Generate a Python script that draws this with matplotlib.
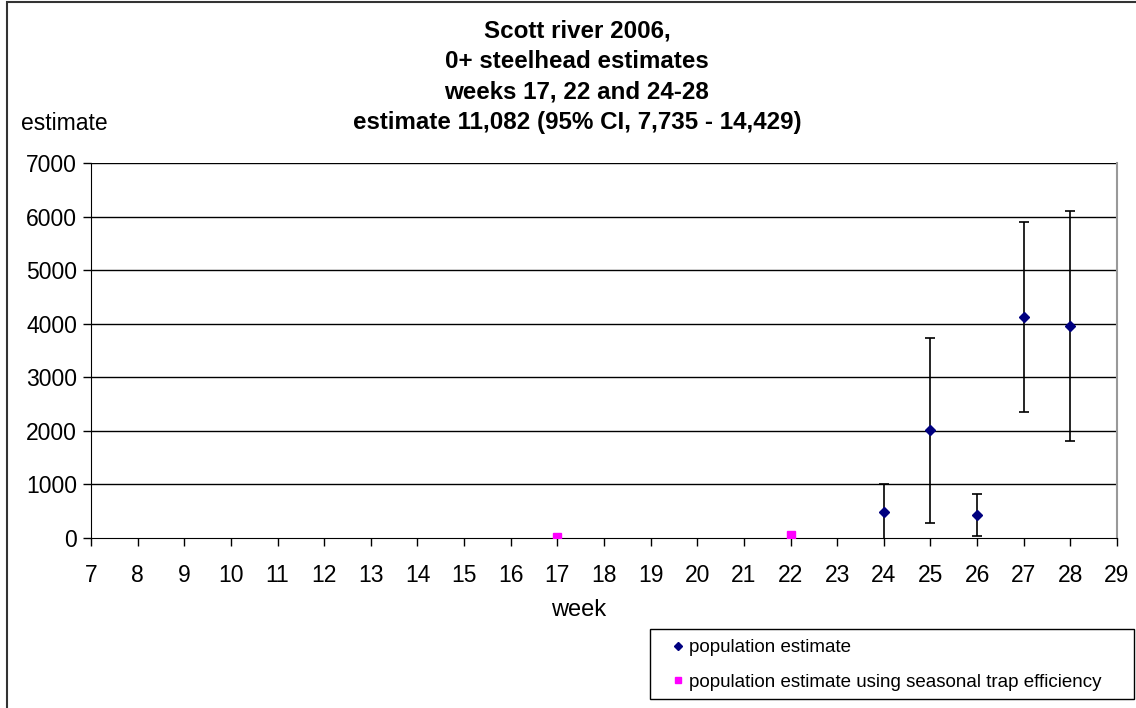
import matplotlib.pyplot as plt
from matplotlib.patches import Rectangle

plt.rcParams['font.family'] = ['Liberation Sans', 'DejaVu Sans']

# weekly population estimates with 95% CI half widths
weeks = [24, 25, 26, 27, 28]
estimates = [490, 2010, 430, 4120, 3960]
ci_half = [520, 1730, 400, 1770, 2140]

# estimates from seasonal trap efficiency
season_weeks = [17, 22]
season_estimates = [15, 57]

week_ticks = list(range(7, 30))
y_ticks = list(range(0, 8000, 1000))

title_lines = [
    "Scott river 2006,",
    "0+ steelhead estimates",
    "weeks 17, 22 and 24-28",
    "estimate 11,082 (95% CI, 7,735 - 14,429)",
]

W, H = 1136, 708
fig = plt.figure(figsize=(W / 100, H / 100), dpi=100)
ax = fig.add_axes([91 / W, 170 / H, 1026 / W, 375 / H])

# outer chart frame
fig.patches.append(Rectangle((7 / W, -0.1), 1.2, 1.1 - 1.5 / H,
                             transform=fig.transFigure, fill=False,
                             edgecolor='#333333', linewidth=1.5))

for y in y_ticks[1:]:
    ax.axhline(y, color='black', linewidth=1, zorder=1)

ax.errorbar(weeks, estimates, yerr=ci_half, fmt='none', ecolor='black',
            elinewidth=1.2, capsize=3.6, capthick=1.2, zorder=2)
ax.plot(weeks, estimates, linestyle='none', marker='D', markersize=5.5,
        color='#000080', label='population estimate', zorder=3)
ax.plot(season_weeks, season_estimates, linestyle='none', marker='s',
        markersize=5.5, color='#FF00FF',
        label='population estimate using seasonal trap efficiency', zorder=3)

ax.set_xlim(7, 29)
ax.set_ylim(0, 7000)
ax.set_xticks(week_ticks)
ax.set_yticks(y_ticks)
ax.tick_params(axis='both', labelsize=16.5, direction='out', length=6,
               width=1, color='black')
ax.tick_params(axis='x', pad=13)
ax.tick_params(axis='y', pad=4)

for side in ['top', 'right']:
    ax.spines[side].set_visible(False)
ax.spines['left'].set_color('black')
ax.spines['bottom'].set_color('black')
ax.axvline(29, color='#999999', linewidth=1.5, clip_on=False)

fig.text(579 / W, 1 - 610 / H, 'week', ha='center', va='center', fontsize=17)

for i, line in enumerate(title_lines):
    fig.text(577 / W, 1 - (31 + 30.5 * i) / H, line, ha='center',
             va='center', fontsize=17.4, fontweight='bold')
fig.text(21 / W, 1 - 123 / H, 'estimate', ha='left', va='center',
         fontsize=16.5)

# legend box
fig.patches.append(Rectangle((650 / W, 1 - 699 / H), 484 / W, 70 / H,
                             transform=fig.transFigure, fill=False,
                             edgecolor='black', linewidth=1))
fig.legend(loc='center left', bbox_to_anchor=(672 / W, 1 - 665 / H),
           fontsize=13.5, frameon=False, handlelength=0.6,
           handletextpad=0.3, borderpad=0, labelspacing=0.95,
           markerscale=0.8, borderaxespad=0)

fig.savefig('out.png', dpi=100)
